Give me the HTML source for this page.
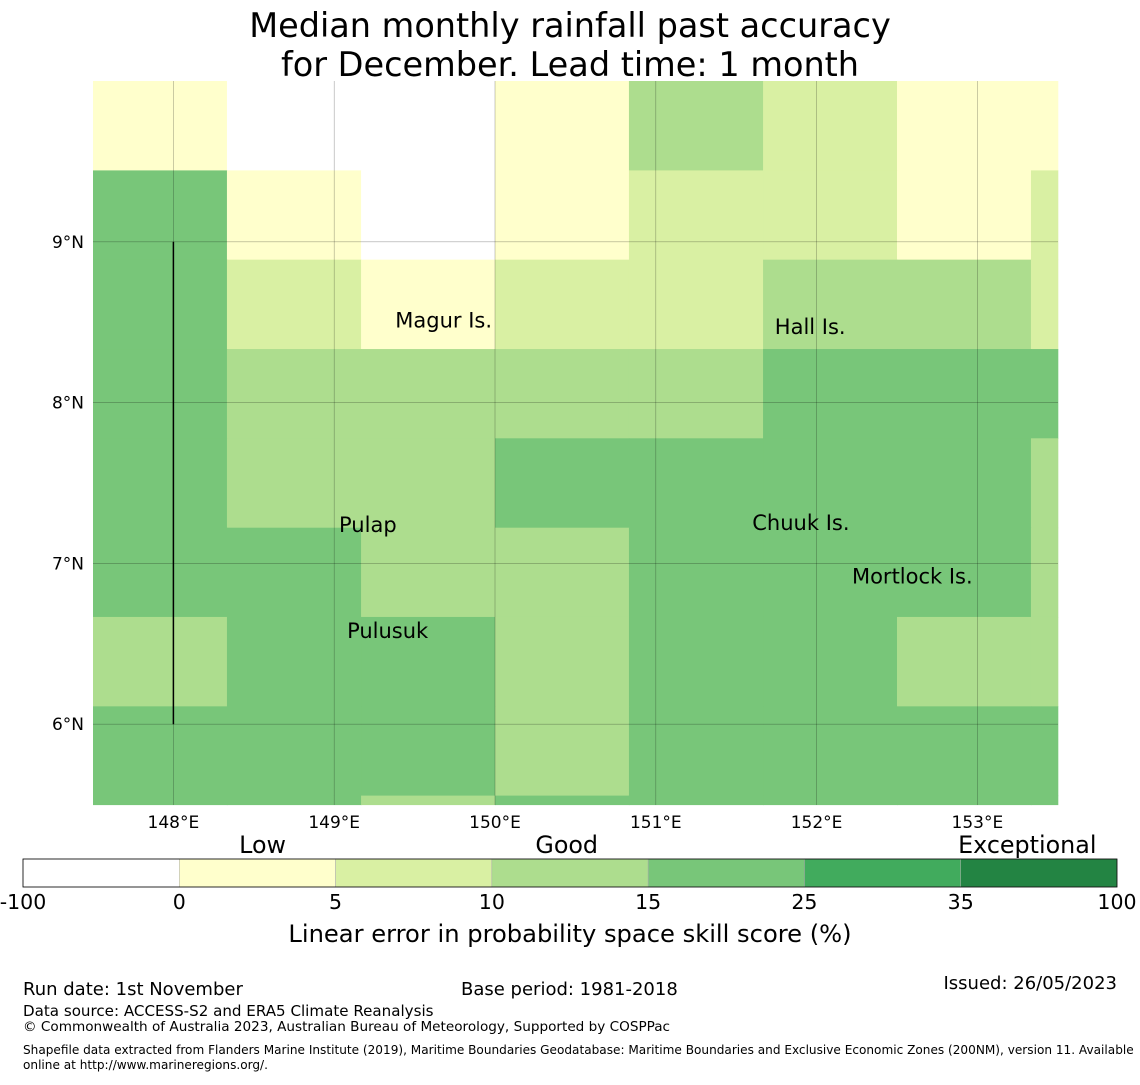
<!DOCTYPE html>
<html><head><meta charset="utf-8"><style>
body{margin:0;background:#fff;}
svg text{font-family:"DejaVu Sans","Liberation Sans",sans-serif;}
</style></head><body>
<svg id="c" width="1140" height="1080" xmlns="http://www.w3.org/2000/svg">
<text x="570" y="37" font-size="33.5" text-anchor="middle">Median monthly rainfall past accuracy</text>
<text x="570" y="76" font-size="33.5" text-anchor="middle">for December. Lead time: 1 month</text>
<g id="map"></g>
<g id="cb"></g>
<text x="570" y="942" font-size="24.2" text-anchor="middle">Linear error in probability space skill score (%)</text>
<text x="23" y="995" font-size="18">Run date: 1st November</text>
<text x="461" y="995" font-size="18">Base period: 1981-2018</text>
<text x="1117" y="989" font-size="18" text-anchor="end">Issued: 26/05/2023</text>
<text x="23" y="1016" font-size="15.1">Data source: ACCESS-S2 and ERA5 Climate Reanalysis</text>
<text x="23" y="1031" font-size="13.6">© Commonwealth of Australia 2023, Australian Bureau of Meteorology, Supported by COSPPac</text>
<text x="23" y="1054" font-size="12.1">Shapefile data extracted from Flanders Marine Institute (2019), Maritime Boundaries Geodatabase: Maritime Boundaries and Exclusive Economic Zones (200NM), version 11. Available</text>
<text x="23" y="1069" font-size="12.1">online at http://www.marineregions.org/.</text>
</svg>
<script>
// Data
const lonEdges=[147.5,148.333,149.167,150.0,150.833,151.667,152.5,153.333,153.5];
const latEdges=[10.0,9.444,8.889,8.333,7.778,7.222,6.667,6.111,5.556,5.5];
const skill=[
 [3,-5,-5,3,12,7,3,3],
 [20,3,-5,3,7,7,3,7],
 [20,7,3,7,7,12,12,7],
 [20,12,12,12,12,20,20,20],
 [20,12,12,20,20,20,20,12],
 [20,20,12,12,20,20,20,12],
 [12,20,20,12,20,20,12,12],
 [20,20,20,12,20,20,20,20],
 [20,20,12,20,20,20,20,20]];
const binEdges=[-100,0,5,10,15,25,35,100];
const binColors=["#ffffff","#ffffcc","#d9f0a3","#addd8e","#78c679","#41ab5d","#238443"];
const lonTicks=[148,149,150,151,152,153];
const latTicks=[9,8,7,6];
const islands=[["Magur Is.",149.38,8.51],["Hall Is.",151.74,8.47],["Pulap",149.03,7.24],["Chuuk Is.",151.6,7.25],["Mortlock Is.",152.22,6.92],["Pulusuk",149.08,6.58]];
const bandLabels=[["Low",0.219],["Good",0.497],["Exceptional",0.918]];

const NS="http://www.w3.org/2000/svg";
const X=lon=>93+(lon-147.5)*160.8;
const Y=lat=>81+(10.0-lat)*160.8;
function mk(t,a,p){const e=document.createElementNS(NS,t);for(const k in a)e.setAttribute(k,a[k]);p.appendChild(e);return e;}
function color(v){for(let i=0;i<binColors.length;i++)if(v<binEdges[i+1])return binColors[i];return binColors[binColors.length-1];}
const map=document.getElementById('map');
skill.forEach((row,r)=>row.forEach((v,c)=>{
 const x0=X(lonEdges[c]),x1=X(lonEdges[c+1]),y0=Y(latEdges[r]),y1=Y(latEdges[r+1]);
 const e=mk('rect',{x:x0,y:y0,width:x1-x0+0.5,height:y1-y0+0.5,fill:color(v)},map);
 
 
}));
lonTicks.forEach(l=>{
 const g=mk('line',{x1:X(l),x2:X(l),y1:81,y2:805,stroke:'#000','stroke-opacity':0.35,'stroke-width':0.6},map);
 
 const t=mk('text',{x:X(l),y:828,'font-size':17,'text-anchor':'middle'},map);t.textContent=l+'°E';
 
});
latTicks.forEach(l=>{
 const g=mk('line',{x1:93,x2:1058,y1:Y(l),y2:Y(l),stroke:'#000','stroke-opacity':0.35,'stroke-width':0.6},map);
 
 const t=mk('text',{x:84,y:Y(l)+6,'font-size':17,'text-anchor':'end'},map);t.textContent=l+'°N';
 
});
const bl=mk('line',{x1:X(148),x2:X(148),y1:Y(9),y2:Y(6),stroke:'#000','stroke-width':1.5},map);

islands.forEach(([n,lo,la])=>{
 const t=mk('text',{x:X(lo),y:Y(la)+7,'font-size':21},map);t.textContent=n;
 
});
// colorbar
const cb=document.getElementById('cb');
const cbx=23,cbw=1094,seg=cbw/binColors.length;
binColors.forEach((col,i)=>{
 const r=mk('rect',{x:cbx+i*seg,y:859,width:seg,height:28,fill:col,stroke:'#aaa','stroke-width':0.5},cb);
 
});
mk('rect',{x:cbx,y:859,width:cbw,height:28,fill:'none',stroke:'#000','stroke-width':0.8},cb);
binEdges.forEach((b,i)=>{
 const t=mk('text',{x:cbx+i*seg,y:909,'font-size':20.5,'text-anchor':'middle'},cb);t.textContent=b;
 
});
bandLabels.forEach(([n,f])=>{
 const t=mk('text',{x:cbx+f*cbw,y:853,'font-size':23.8,'text-anchor':'middle'},cb);t.textContent=n;
 
});
</script>
</body></html>
